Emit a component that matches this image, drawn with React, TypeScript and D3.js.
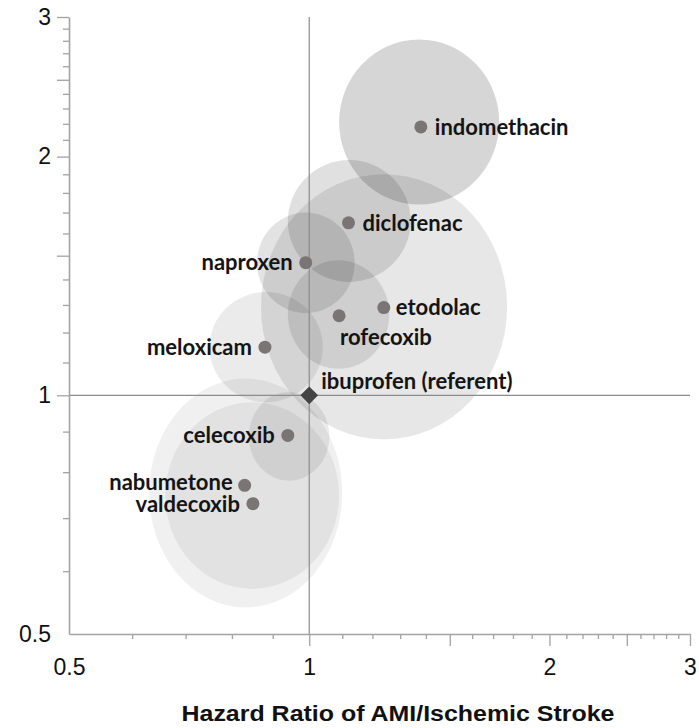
import React, { useEffect, useRef } from 'react';
import * as d3 from 'd3';

// drugs, hazard ratios (x = AMI, y = ischemic stroke) and 95% CI bounds
const drugs = ['indomethacin', 'diclofenac', 'naproxen', 'etodolac', 'rofecoxib', 'meloxicam', 'celecoxib', 'nabumetone', 'valdecoxib'];
const hrX = [1.38, 1.12, 0.99, 1.24, 1.09, 0.88, 0.94, 0.83, 0.85];
const hrY = [2.18, 1.65, 1.47, 1.29, 1.26, 1.15, 0.89, 0.77, 0.73];
const ciXLow = [1.09, 0.94, 0.86, 0.87, 0.94, 0.75, 0.84, 0.63, 0.66];
const ciXHigh = [1.73, 1.34, 1.14, 1.77, 1.26, 1.04, 1.06, 1.10, 1.09];
const ciYLow = [1.74, 1.39, 1.27, 0.88, 1.08, 0.98, 0.78, 0.54, 0.57];
const ciYHigh = [2.81, 1.98, 1.70, 1.90, 1.48, 1.35, 1.01, 1.05, 0.98];

const referent = { name: 'ibuprofen (referent)', x: 1, y: 1 };

// axis ticks
const tickLabels = [0.5, 1, 2, 3];
const longTicks = [1, 1.5, 2, 2.5, 3];
const minorTicks = [0.6, 0.7, 0.8, 0.9, 1.1, 1.2, 1.3, 1.4, 1.6, 1.7, 1.8, 1.9, 2.1, 2.2, 2.3, 2.4, 2.6, 2.7, 2.8, 2.9];

const axisTitle = 'Hazard Ratio of AMI/Ischemic Stroke';

// styling per drug: ellipse shade and label placement
const shade: Record<string, number> = {
  indomethacin: 0.16, diclofenac: 0.12, naproxen: 0.11, etodolac: 0.095, rofecoxib: 0.1,
  meloxicam: 0.08, celecoxib: 0.08, nabumetone: 0.06, valdecoxib: 0.055,
};
const labelPos: Record<string, [number, number, string]> = {
  indomethacin: [14, 0, 'start'],
  diclofenac: [14, 0, 'start'],
  naproxen: [-13, 0, 'end'],
  etodolac: [12, 0, 'start'],
  rofecoxib: [1, 22, 'start'],
  meloxicam: [-13, 0, 'end'],
  celecoxib: [-13, 0, 'end'],
  nabumetone: [-12, -3, 'end'],
  valdecoxib: [-13, 1, 'end'],
};

export default function App() {
  const svgRef = useRef<SVGSVGElement>(null);
  const width = 699;
  const height = 728;

  useEffect(() => {
    const svg = d3.select(svgRef.current);
    svg.selectAll('*').remove();

    const x = d3.scaleLog().domain([0.5, 3]).range([69, 690]);
    const y = d3.scaleLog().domain([0.5, 3]).range([634, 17]);

    const data = drugs.map((name, i) => ({
      name,
      hx: hrX[i], hy: hrY[i],
      xl: ciXLow[i], xh: ciXHigh[i], yl: ciYLow[i], yh: ciYHigh[i],
    }));

    // CI ellipses
    svg.append('g')
      .selectAll('ellipse')
      .data(data)
      .enter()
      .append('ellipse')
      .attr('cx', d => (x(d.xl) + x(d.xh)) / 2)
      .attr('cy', d => (y(d.yl) + y(d.yh)) / 2)
      .attr('rx', d => (x(d.xh) - x(d.xl)) / 2)
      .attr('ry', d => (y(d.yl) - y(d.yh)) / 2)
      .attr('fill', '#000')
      .attr('fill-opacity', d => shade[d.name]);

    // reference lines at HR = 1
    svg.append('line')
      .attr('x1', x(1)).attr('x2', x(1))
      .attr('y1', y(3)).attr('y2', y(0.5))
      .attr('stroke', '#8c8c8c').attr('stroke-width', 1.2);
    svg.append('line')
      .attr('x1', x(0.5)).attr('x2', x(3))
      .attr('y1', y(1)).attr('y2', y(1))
      .attr('stroke', '#8c8c8c').attr('stroke-width', 1.2);

    const styleAxis = (g: any) => {
      g.attr('font-size', null).attr('font-family', null);
      g.selectAll('.tick line').attr('stroke', '#a3a3a3').attr('stroke-width', 1.3);
      g.selectAll('.tick text').attr('fill', '#111')
        .style('font-family', '"Liberation Sans", Arial, sans-serif')
        .style('font-size', '23px');
    };

    // x axis
    const gx = svg.append('g').attr('transform', `translate(0,${y(0.5)})`);
    gx.append('g').call(d3.axisBottom(x).tickValues(minorTicks).tickSize(5).tickSizeOuter(0).tickFormat(() => ''))
      .call(styleAxis).select('.domain').remove();
    gx.append('g').call(d3.axisBottom(x).tickValues(longTicks).tickSize(12).tickSizeOuter(0).tickFormat(() => ''))
      .call(styleAxis).select('.domain').remove();
    gx.append('g').call(d3.axisBottom(x).tickValues(tickLabels).tickSize(0).tickSizeOuter(0).tickPadding(25).tickFormat(d3.format('')))
      .call(styleAxis)
      .select('.domain').attr('stroke', '#a3a3a3').attr('stroke-width', 1.6);

    // y axis
    const gy = svg.append('g').attr('transform', `translate(${x(0.5)},0)`);
    gy.append('g').call(d3.axisLeft(y).tickValues(minorTicks).tickSize(6).tickSizeOuter(0).tickFormat(() => ''))
      .call(styleAxis).select('.domain').remove();
    gy.append('g').call(d3.axisLeft(y).tickValues(longTicks).tickSize(12).tickSizeOuter(0).tickFormat(() => ''))
      .call(styleAxis).select('.domain').remove();
    gy.append('g').call(d3.axisLeft(y).tickValues(tickLabels).tickSize(0).tickSizeOuter(0).tickPadding(18).tickFormat(d3.format('')))
      .call(styleAxis)
      .select('.domain').attr('stroke', '#a3a3a3').attr('stroke-width', 1.6);

    // points
    svg.append('g')
      .selectAll('circle')
      .data(data)
      .enter()
      .append('circle')
      .attr('cx', d => x(d.hx))
      .attr('cy', d => y(d.hy))
      .attr('r', 6.5)
      .attr('fill', '#7a7474');

    // referent diamond
    svg.append('path')
      .attr('d', d3.symbol(d3.symbolDiamond2, 200)())
      .attr('transform', `translate(${x(referent.x)},${y(referent.y)})`)
      .attr('fill', '#444');

    const labelFont = 'Lato, "Open Sans", sans-serif';

    svg.append('g')
      .selectAll('text')
      .data(data)
      .enter()
      .append('text')
      .text(d => d.name)
      .attr('x', d => x(d.hx) + labelPos[d.name][0])
      .attr('y', d => y(d.hy) + labelPos[d.name][1])
      .attr('dy', '0.35em')
      .attr('text-anchor', d => labelPos[d.name][2])
      .attr('fill', '#141414')
      .style('font-family', labelFont)
      .style('font-weight', 'bold')
      .style('font-size', '22px');

    svg.append('text')
      .text(referent.name)
      .attr('x', x(referent.x) + 12)
      .attr('y', y(referent.y) - 14)
      .attr('dy', '0.35em')
      .attr('fill', '#141414')
      .style('font-family', labelFont)
      .style('font-weight', 'bold')
      .style('font-size', '22px');

    // axis title
    svg.append('text')
      .text(axisTitle)
      .attr('x', 398)
      .attr('y', 721)
      .attr('text-anchor', 'middle')
      .attr('textLength', 433)
      .attr('lengthAdjust', 'spacingAndGlyphs')
      .attr('fill', '#111')
      .style('font-family', '"Liberation Sans", Arial, sans-serif')
      .style('font-weight', 'bold')
      .style('font-size', '22px');
  }, []);

  return (
    <svg
      ref={svgRef}
      width={width}
      height={height}
      style={{ position: 'absolute', left: 0, top: 0, background: '#fff' }}
    />
  );
}
